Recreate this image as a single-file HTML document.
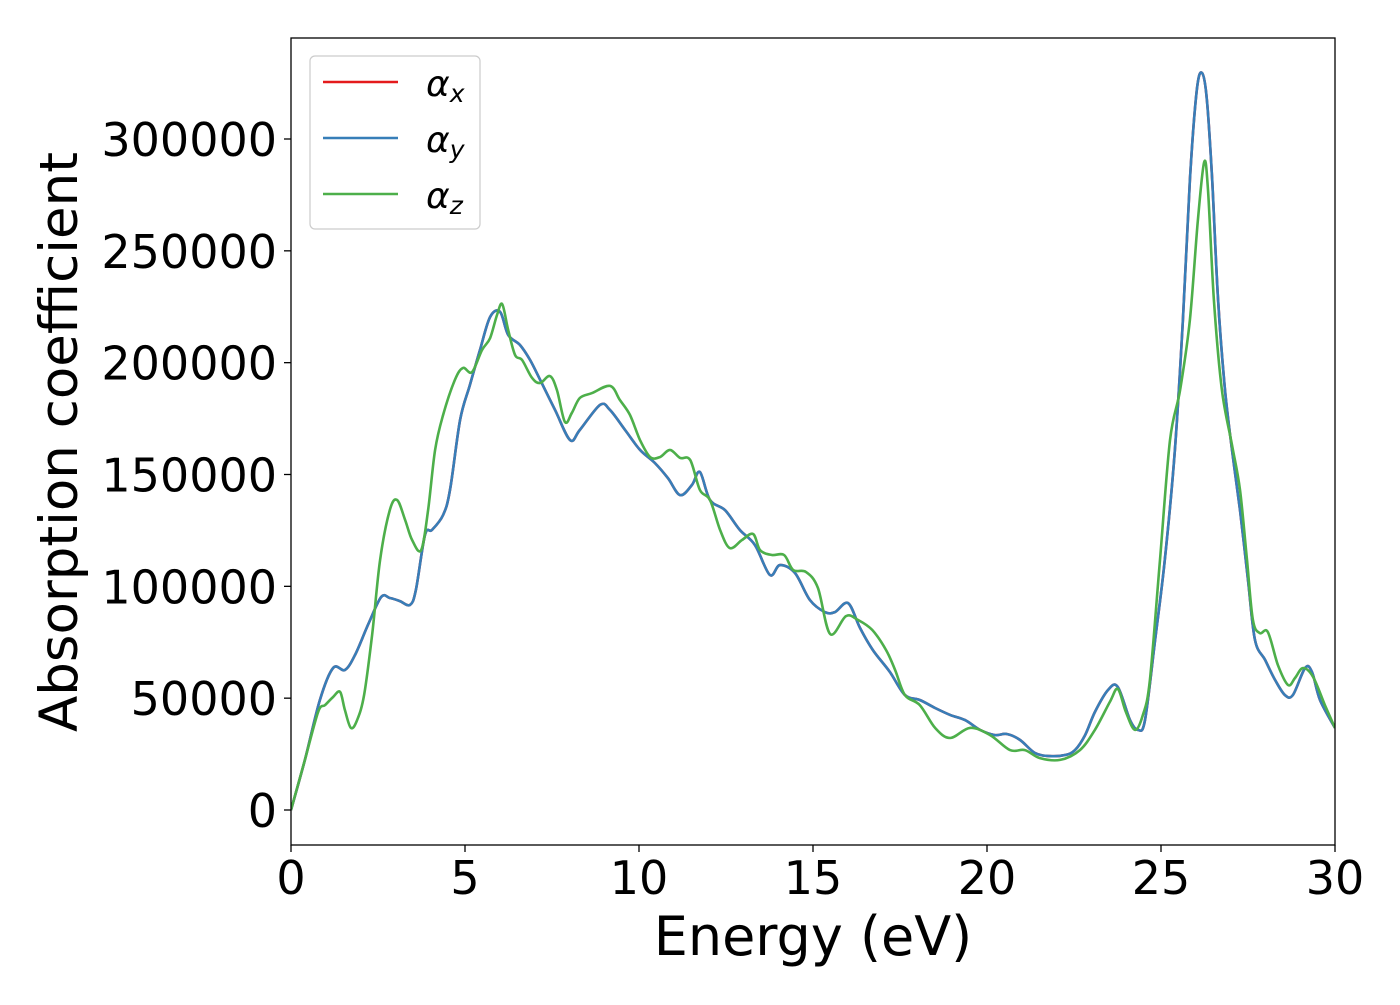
<!DOCTYPE html>
<html><head><meta charset="utf-8"><style>
body{margin:0;background:#fff}
svg text{font-family:"DejaVu Sans","Liberation Sans",sans-serif}
</style></head><body>
<svg id="chart" width="1400" height="1000" viewBox="0 0 1400 1000" xmlns="http://www.w3.org/2000/svg">
<rect width="1400" height="1000" fill="#fff"/>
<g id="series"></g>
<rect x="291" y="38" width="1044" height="807" fill="none" stroke="#000" stroke-width="1.3"/>
<g id="axes"></g>
<text x="813" y="955" font-size="54" text-anchor="middle">Energy (eV)</text>
<text transform="translate(77,442) rotate(-90)" font-size="53" text-anchor="middle">Absorption coefficient</text>
<g>
<rect x="310" y="56" width="170" height="173" rx="5" fill="#fff" fill-opacity="0.8" stroke="#ccc" stroke-width="1.2"/>
<line x1="323" y1="82" x2="398" y2="82" stroke="#e41a1c" stroke-width="2.5"/>
<text x="426" y="96" font-size="36" font-style="italic">α<tspan font-size="25" dy="6">x</tspan></text>
<line x1="323" y1="138" x2="398" y2="138" stroke="#377eb8" stroke-width="2.5"/>
<text x="426" y="152" font-size="36" font-style="italic">α<tspan font-size="25" dy="6">y</tspan></text>
<line x1="323" y1="194" x2="398" y2="194" stroke="#4daf4a" stroke-width="2.5"/>
<text x="426" y="208" font-size="36" font-style="italic">α<tspan font-size="25" dy="6">z</tspan></text>
</g>
</svg>
<script>
const xTicks=[0,5,10,15,20,25,30];
const yTicks=[0,50000,100000,150000,200000,250000,300000];
const eY=[0,0.40,0.83,1.21,1.55,1.84,2.21,2.59,2.84,3.13,3.42,3.59,3.85,4.05,4.37,4.57,4.86,5.14,5.43,5.72,6.01,6.24,6.58,6.87,7.16,7.59,8.02,8.30,8.88,9.17,9.60,10.03,10.46,10.83,11.18,11.52,11.75,12.04,12.47,12.90,13.33,13.76,14.05,14.48,14.91,15.34,15.63,16.01,16.35,16.72,17.21,17.64,18.07,18.51,18.94,19.37,19.80,20.23,20.57,20.95,21.38,21.81,22.24,22.53,22.82,23.10,23.48,23.76,24.11,24.34,24.54,24.83,25.11,25.40,25.63,25.83,26.03,26.18,26.32,26.47,26.64,26.84,27.04,27.27,27.50,27.70,27.99,28.28,28.56,28.79,29.14,29.34,29.57,30.00];
const alphaY=[0,22400,49200,63500,62600,69300,82700,95200,94800,93400,91700,98400,123000,125200,131900,143100,174400,190000,205700,220400,222700,212400,207900,201200,192300,178800,165400,169900,181100,178800,169900,161000,155100,148400,140800,145300,151100,138600,134100,125200,118500,105100,109500,106000,93900,88500,88500,92500,81400,71500,61700,51400,49200,45600,42500,40200,35800,33500,34000,31300,25500,24100,24600,26800,33500,43800,53700,55000,40200,35800,40200,76000,111800,161000,219100,281700,321900,329500,317400,281700,228000,187800,161000,134100,102800,76000,67100,58100,51400,51400,63500,61700,49200,36700];
const eX=eY.slice();
const alphaX=alphaY.slice();
const eZ=[0,0.40,0.78,0.98,1.21,1.41,1.55,1.72,1.90,2.10,2.33,2.56,2.84,3.05,3.28,3.48,3.74,3.94,4.14,4.37,4.71,4.94,5.20,5.49,5.72,5.92,6.07,6.24,6.44,6.64,6.93,7.16,7.44,7.64,7.87,8.07,8.30,8.65,9.17,9.45,9.74,10.03,10.32,10.60,10.89,11.18,11.47,11.75,12.04,12.33,12.61,12.96,13.28,13.48,13.82,14.17,14.43,14.80,15.14,15.49,15.95,16.29,16.70,17.10,17.36,17.64,18.07,18.51,18.94,19.51,20.09,20.66,21.09,21.52,22.10,22.67,23.10,23.53,23.76,23.99,24.25,24.48,24.68,24.97,25.26,25.55,25.83,26.06,26.24,26.35,26.52,26.75,27.04,27.27,27.47,27.64,27.84,28.07,28.36,28.65,28.85,29.08,29.37,29.71,30.00];
const alphaZ=[0,22400,43800,46900,50500,52800,44700,36700,40200,51400,78200,111800,134100,138600,129700,120700,116200,134100,161000,176600,192300,197600,195800,205700,211000,221300,226200,214600,203400,201200,193100,190900,194000,187800,173500,177500,184200,186400,189600,183300,176600,165400,157800,157800,161000,157400,156500,143100,138600,125200,117100,120700,123400,116200,114000,114000,107300,106400,99300,78700,86700,85000,80500,71500,62600,51400,46900,36700,32200,36700,33500,26800,26800,23200,22400,26800,35800,48300,54100,43800,35800,42500,58100,111800,165400,187800,219100,263800,289700,277200,228000,187800,163200,143100,111800,85000,79100,79600,64800,55900,59000,63500,59500,46900,36700];

const X0=291,X1=1335,Y0=810,YPER=(810-139)/300000;
function sx(v){return X0+(v-0)/(30-0)*(X1-X0);}
function sy(v){return Y0-v*YPER;}
const NS='http://www.w3.org/2000/svg';
function pathFor(xs,ys){
  const p=xs.map((x,i)=>[sx(x),sy(ys[i])]);
  let d='M'+p[0][0].toFixed(1)+','+p[0][1].toFixed(1);
  for(let i=0;i<p.length-1;i++){
    const a=p[Math.max(0,i-1)],b=p[i],c=p[i+1],e=p[Math.min(p.length-1,i+2)];
    const c1=[b[0]+(c[0]-a[0])/6,b[1]+(c[1]-a[1])/6],c2=[c[0]-(e[0]-b[0])/6,c[1]-(e[1]-b[1])/6];
    d+='C'+c1[0].toFixed(1)+','+c1[1].toFixed(1)+' '+c2[0].toFixed(1)+','+c2[1].toFixed(1)+' '+c[0].toFixed(1)+','+c[1].toFixed(1);
  }
  return d;
}
const g=document.getElementById('series');
const clip=document.createElementNS(NS,'clipPath');clip.id='pc';
const cr=document.createElementNS(NS,'rect');cr.setAttribute('x',X0);cr.setAttribute('y',38);cr.setAttribute('width',X1-X0);cr.setAttribute('height',807);
clip.appendChild(cr);g.appendChild(clip);
function addLine(xs,ys,color,name){
  const el=document.createElementNS(NS,'path');
  el.setAttribute('d',pathFor(xs,ys));el.setAttribute('fill','none');el.setAttribute('stroke',color);
  el.setAttribute('stroke-width','2.6');el.setAttribute('clip-path','url(#pc)');
  
  
  g.appendChild(el);
}
addLine(eX,alphaX,'#e41a1c','series-alpha-x');
addLine(eY,alphaY,'#377eb8','series-alpha-y');
addLine(eZ,alphaZ,'#4daf4a','series-alpha-z');

const ax=document.getElementById('axes');
xTicks.forEach(t=>{
  const l=document.createElementNS(NS,'line');
  l.setAttribute('x1',sx(t));l.setAttribute('x2',sx(t));l.setAttribute('y1',845);l.setAttribute('y2',852);l.setAttribute('stroke','#000');l.setAttribute('stroke-width','1.3');
  
  
  ax.appendChild(l);
  const tx=document.createElementNS(NS,'text');
  tx.setAttribute('x',sx(t));tx.setAttribute('y',894);tx.setAttribute('font-size','46');tx.setAttribute('text-anchor','middle');
  tx.textContent=t;
  
  
  ax.appendChild(tx);
});
yTicks.forEach(t=>{
  const l=document.createElementNS(NS,'line');
  l.setAttribute('x1',284);l.setAttribute('x2',291);l.setAttribute('y1',sy(t));l.setAttribute('y2',sy(t));l.setAttribute('stroke','#000');l.setAttribute('stroke-width','1.3');
  
  
  ax.appendChild(l);
  const tx=document.createElementNS(NS,'text');
  tx.setAttribute('x',277);tx.setAttribute('y',sy(t)+17);tx.setAttribute('font-size','46');tx.setAttribute('text-anchor','end');
  tx.textContent=t;
  
  
  ax.appendChild(tx);
});
</script>
</body></html>
